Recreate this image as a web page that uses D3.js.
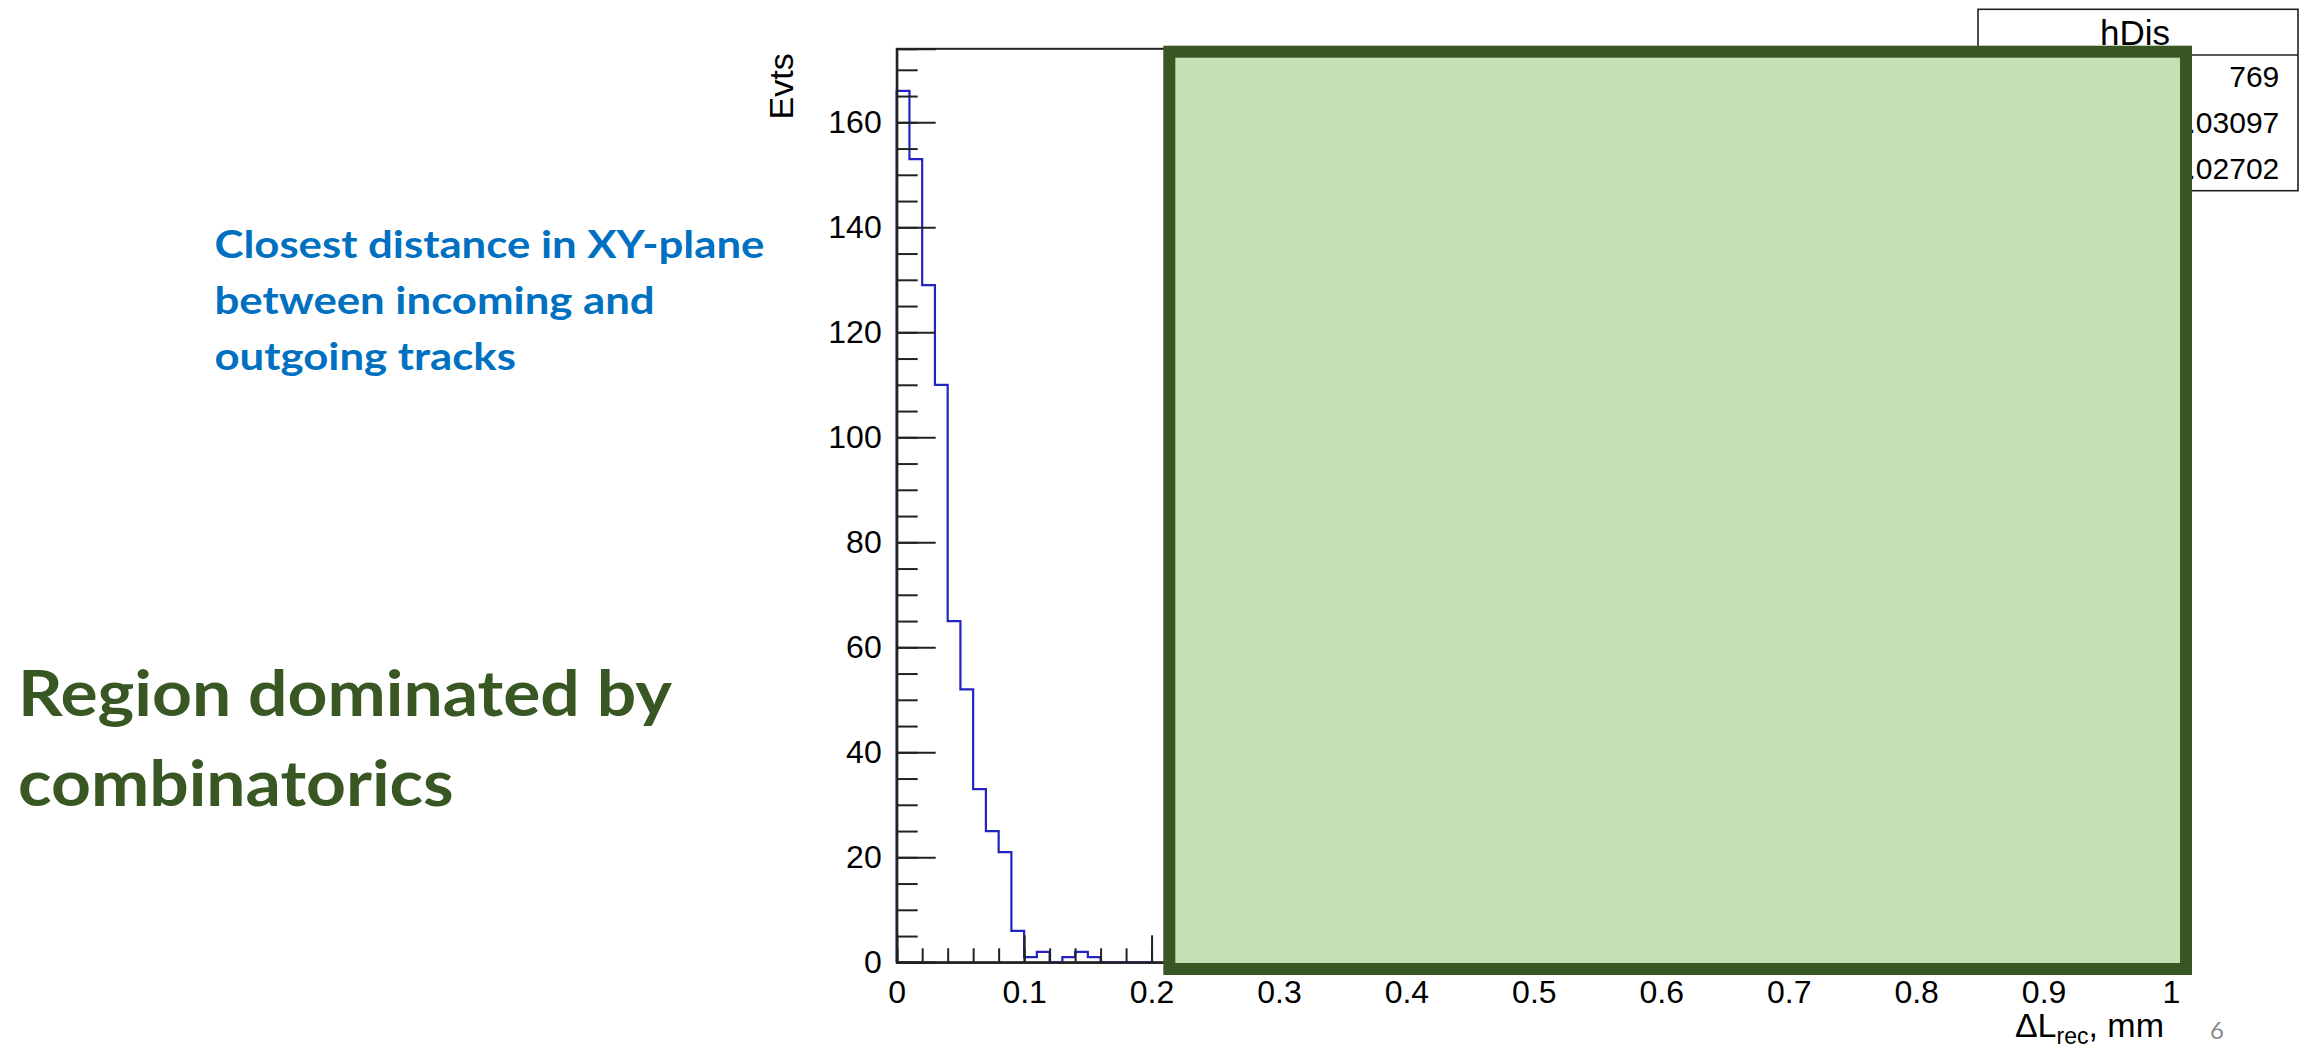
<!DOCTYPE html>
<html>
<head>
<meta charset="utf-8">
<script src="https://cdn.jsdelivr.net/npm/d3@7"></script>
<style>
  html, body { margin: 0; padding: 0; background: #fff; overflow: hidden; }
  svg { display: block; }
  .root text { font-family: "Liberation Sans", Arial, Helvetica, sans-serif; fill: #000; }
  .slide text { font-family: Lato, "Open Sans", sans-serif; font-weight: 700; }
</style>
</head>
<body>
<svg id="chart" width="2315" height="1048"></svg>
<script>
// histogram hDis, bins of 0.01 from 0 (only the visible part, rest hidden by the box)
const binWidth = 0.01;
const binCounts = [166, 153, 129, 110, 65, 52, 33, 25, 21, 6, 1, 2, 0, 1, 2, 1, 0, 0, 0, 0];

const xTicks = [0, 0.1, 0.2, 0.3, 0.4, 0.5, 0.6, 0.7, 0.8, 0.9, 1];
const xTickLabels = ['0', '0.1', '0.2', '0.3', '0.4', '0.5', '0.6', '0.7', '0.8', '0.9', '1'];
const yTicks = [0, 20, 40, 60, 80, 100, 120, 140, 160];
const yMax = 174;

const statsTitle = 'hDis';
const statsNames = ['Entries', 'Mean', 'Std Dev'];
const statsValues = ['769', '0.03097', '0.02702'];

const noteLines = ['Closest distance in XY-plane', 'between incoming and', 'outgoing tracks'];
const regionLines = ['Region dominated by', 'combinatorics'];
const pageNumber = '6';

const svg = d3.select('#chart');
svg.append('rect').attr('width', 2315).attr('height', 1048).attr('fill', '#fff');

const x = d3.scaleLinear().domain([0, 1]).range([896.7, 2171]);
const y = d3.scaleLinear().domain([0, yMax]).range([962.3, 48.8]);

const root = svg.append('g').classed('root', true);

// frame
root.append('rect')
  .attr('x', x(0)).attr('y', y(yMax))
  .attr('width', x(1) - x(0)).attr('height', y(0) - y(yMax))
  .attr('fill', 'none').attr('stroke', '#222').attr('stroke-width', 2);

// histogram outline
const steps = [[0, 0]];
binCounts.forEach((c, i) => {
  steps.push([i * binWidth, c]);
  steps.push([(i + 1) * binWidth, c]);
});
steps.push([binCounts.length * binWidth, 0]);
root.append('path')
  .attr('d', d3.line().x(d => x(d[0])).y(d => y(d[1]))(steps))
  .attr('fill', 'none').attr('stroke', '#2323c2').attr('stroke-width', 2.2);

// y axis
const yMinor = root.append('g').attr('transform', `translate(${x(0)},0)`)
  .call(d3.axisLeft(y).tickValues(d3.range(0, yMax, 5)).tickSize(-21).tickFormat(''));
const yMajor = root.append('g').attr('transform', `translate(${x(0)},0)`)
  .call(d3.axisLeft(y).tickValues(yTicks).tickSize(-39).tickPadding(15));
yMajor.selectAll('text').style('font-size', '32px');

// x axis
const xMinor = root.append('g').attr('transform', `translate(0,${y(0)})`)
  .call(d3.axisBottom(x).tickValues(d3.range(0, 1.001, 0.02)).tickSize(-14).tickFormat(''));
const xMajor = root.append('g').attr('transform', `translate(0,${y(0)})`)
  .call(d3.axisBottom(x).tickValues(xTicks).tickSize(-27).tickPadding(18)
    .tickFormat((d, i) => xTickLabels[i]));
xMajor.selectAll('text').style('font-size', '32px');

[yMinor, yMajor, xMinor, xMajor].forEach(g => {
  g.select('.domain').attr('stroke', '#222').attr('stroke-width', 2);
  g.selectAll('.tick line').attr('stroke', '#222').attr('stroke-width', 2);
  g.attr('font-family', null).attr('font-size', null);
});

// axis titles
root.append('text')
  .attr('transform', `translate(793,53.3) rotate(-90)`)
  .attr('text-anchor', 'end')
  .style('font-size', '34px')
  .text('Evts');

const xTitle = root.append('text')
  .attr('x', 2164).attr('y', 1036.7)
  .attr('text-anchor', 'end')
  .style('font-size', '34px');
xTitle.append('tspan').text('\u0394L');
xTitle.append('tspan').attr('dy', 7).style('font-size', '23px').text('rec');
xTitle.append('tspan').attr('dy', -7).text(', mm');

// stats box
const stats = root.append('g');
stats.append('rect')
  .attr('x', 1978).attr('y', 9.3).attr('width', 320).attr('height', 181.4)
  .attr('fill', '#fff').attr('stroke', '#222').attr('stroke-width', 1.6);
stats.append('line')
  .attr('x1', 1978).attr('x2', 2298).attr('y1', 55).attr('y2', 55)
  .attr('stroke', '#222').attr('stroke-width', 1.6);
stats.append('text')
  .attr('x', 2135).attr('y', 45).attr('text-anchor', 'middle')
  .style('font-size', '35px').text(statsTitle);
statsNames.forEach((name, i) => {
  stats.append('text').attr('x', 1990).attr('y', 87.3 + i * 46)
    .style('font-size', '30px').text(name);
  stats.append('text').attr('x', 2279.3).attr('y', 87.3 + i * 46)
    .attr('text-anchor', 'end').style('font-size', '30px').text(statsValues[i]);
});

// slide overlay
const slide = svg.append('g').classed('slide', true);
slide.append('rect')
  .attr('x', 1169.3).attr('y', 51.7).attr('width', 1016.7).attr('height', 917.3)
  .attr('fill', '#c5e0b4').attr('stroke', '#385723').attr('stroke-width', 12);

function textBlock (lines, { left, top, size, lineGap, width, color }) {
  const g = slide.append('g');
  const texts = g.selectAll('text').data(lines).enter().append('text')
    .attr('x', 0)
    .attr('y', (d, i) => top + i * lineGap)
    .style('font-size', size + 'px')
    .attr('fill', color)
    .text(d => d);
  const k = width / texts.node().getComputedTextLength();
  g.attr('transform', `translate(${left},0) scale(${k},1)`);
  return g;
}

textBlock(noteLines, { left: 214.5, top: 258.3, size: 38.5, lineGap: 56, width: 550, color: '#0070c0' });
textBlock(regionLines, { left: 18, top: 716, size: 64, lineGap: 90, width: 654, color: '#385723' });

// page number, kept just inside the bottom edge
slide.append('text')
  .attr('x', 2210).attr('y', 1039)
  .style('font-size', '24px').style('font-weight', 400)
  .attr('fill', '#8b8b8b')
  .text(pageNumber);
</script>
</body>
</html>
